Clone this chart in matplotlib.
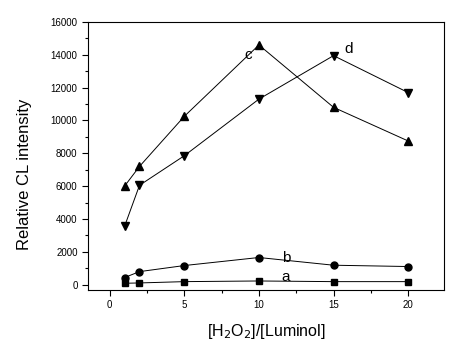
import matplotlib
matplotlib.use("Agg")
import matplotlib.pyplot as plt
from matplotlib.ticker import MultipleLocator

plt.rcParams['font.family'] = ['Liberation Sans', 'DejaVu Sans']

# [H2O2]/[Luminol] ratios
ratio = [1, 2, 5, 10, 15, 20]

# relative CL intensity for each curve
a_vals = [80, 100, 180, 220, 180, 180]
b_vals = [430, 790, 1160, 1650, 1180, 1100]
c_vals = [6000, 7200, 10250, 14600, 10800, 8750]
d_vals = [3550, 6050, 7850, 11300, 13950, 11700]

curve_names = ['a', 'b', 'c', 'd']
markers = ['s', 'o', '^', 'v']
msizes = [4, 5, 6, 6]

fig = plt.figure(figsize=(4.54, 3.40), dpi=100)
ax = fig.add_axes([88 / 454, 50 / 340, 356 / 454, 268 / 340])

for vals, m, ms in zip([a_vals, b_vals, c_vals, d_vals], markers, msizes):
    ax.plot(ratio, vals, color='k', lw=0.7, marker=m, ms=ms,
            markerfacecolor='k', markeredgecolor='k')

# curve letters
ax.text(9.25, 14000, 'c', fontsize=11, ha='center', va='center')
ax.text(16.0, 14350, 'd', fontsize=11, ha='center', va='center')
ax.text(11.8, 1600, 'b', fontsize=11, ha='center', va='center')
ax.text(11.8, 450, 'a', fontsize=11, ha='center', va='center')

ax.set_xlim(-1.45, 22.4)
ax.set_ylim(-330, 16000)
ax.xaxis.set_major_locator(MultipleLocator(5))
ax.xaxis.set_minor_locator(MultipleLocator(2.5))
ax.yaxis.set_major_locator(MultipleLocator(2000))
ax.yaxis.set_minor_locator(MultipleLocator(1000))
ax.tick_params(which='major', direction='out', length=4, width=0.8,
               labelsize=7, top=False, right=False)
ax.tick_params(which='minor', direction='out', length=2.5, width=0.8,
               top=False, right=False)
for sp in ax.spines.values():
    sp.set_linewidth(0.8)

ax.set_ylabel('Relative CL intensity', fontsize=12)
ax.yaxis.set_label_coords(-0.157, 0.43)
ax.set_xlabel(r'[H$_2$O$_2$]/[Luminol]', fontsize=11.5, labelpad=8)

fig.savefig('out.png', dpi=100)
